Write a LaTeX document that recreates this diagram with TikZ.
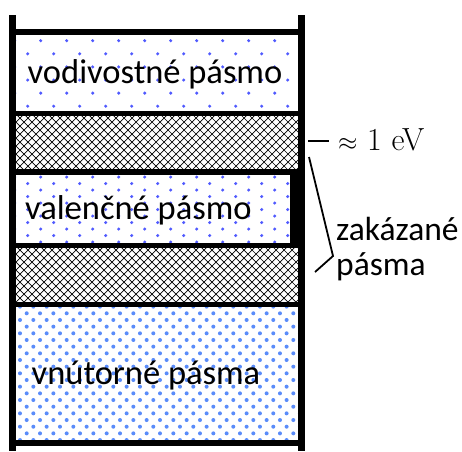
\documentclass[tikz,border=0pt]{standalone}
\usepackage{fontspec}
\newfontfamily\calib{Carlito}
\definecolor{dotblue}{RGB}{80,90,255}
\definecolor{dotlight}{RGB}{90,140,250}
\tikzset{
  frame/.style={line width=7pt, line cap=butt},
  sep/.style={line width=5.5pt},
  hatchline/.style={line width=0.7pt},
  lbl/.style={anchor=base west, inner sep=0pt, font=\calib\fontsize{34.5}{40}\selectfont},
  sidelbl/.style={anchor=base west, inner sep=0pt, font=\calib\fontsize{33.5}{40}\selectfont},
  conn/.style={line width=1.8pt, line join=miter},
}
\begin{document}
\begin{tikzpicture}[x=1pt,y=-1pt]
\useasboundingbox (0,0) rectangle (462,451);
\fill[white] (0,0) rectangle (462,451);
% conduction band dots
\begin{scope}
\clip (16,35) rectangle (298,111);
\foreach \k in {0,...,5}{
  \pgfmathsetmacro{\yy}{40.7+13.1*\k}
  \pgfmathsetmacro{\xo}{mod(\k,2)==0 ? 40.7 : 27.7}
  \foreach \j in {-1,...,11}{
    \fill[dotblue] (\xo+26*\j,\yy) circle (1.7);
  }
}
\end{scope}
% valence band dots
\begin{scope}
\clip (16,175) rectangle (298,243);
\foreach \k in {0,...,10}{
  \pgfmathsetmacro{\yy}{177+6.5*\k}
  \pgfmathsetmacro{\xo}{mod(\k,2)==0 ? 14.7 : 27.7}
  \foreach \j in {0,...,11}{
    \fill[dotblue] (\xo+26*\j,\yy) circle (1.7);
  }
}
\end{scope}
% inner band dots
\begin{scope}
\clip (16,307) rectangle (298,440);
\foreach \k in {-1,...,19}{
  \pgfmathsetmacro{\yy}{313.3+6.67*\k}
  \pgfmathsetmacro{\xo}{mod(\k+2,2)==0 ? 26.7 : 20}
  \foreach \j in {-1,...,21}{
    \fill[dotlight] (\xo+13.33*\j,\yy) circle (2.0);
  }
}
\end{scope}
% hatched gaps
\foreach \ya/\yb in {116/169, 248/302}{
  \begin{scope}
  \clip (16,\ya) rectangle (298,\yb);
  \foreach \i in {-10,...,45}{
    \draw[hatchline] (8*\i,\ya-2) -- ++(60,60);
    \draw[hatchline] (8*\i,\ya-2) -- ++(-60,60);
  }
  \end{scope}
}
% horizontal separators
\foreach \yy in {32,113.5,172,245.5,304.5,443}{
  \draw[sep] (12.5,\yy) -- (301.5,\yy);
}
% thick right edge of valence band
\fill[black] (290,172) rectangle (305,245.5);
% frame
\draw[frame] (12.5,15) -- (12.5,451);
\draw[frame] (301.5,15) -- (301.5,451);
% labels
\node[lbl] (vod) at (27.5,83.5) {vodivostné pásmo};
\node[lbl] (val) at (25,219) {valenčné pásmo};
\node[lbl] (vnu) at (31.5,384.3) {vnútorné pásma};
\node[sidelbl] (zak) at (336,240) {zakázané};
\node[sidelbl] (pas) at (336,275) {pásma};
\node[anchor=base west, inner sep=0pt, font=\fontsize{32}{38}\selectfont] (ev) at (338,150.7) {$\approx$ 1 eV};
% connectors
\coordinate (t1) at (308,140.5);
\coordinate (t2) at (329,140.5);
\draw[line width=2pt] (t1) -- (t2);
\coordinate (b1) at (309,157);
\coordinate (b2) at (333,256);
\coordinate (b3) at (315,272);
\draw[conn] (b1) -- (b2) -- (b3);
\end{tikzpicture}
\end{document}
